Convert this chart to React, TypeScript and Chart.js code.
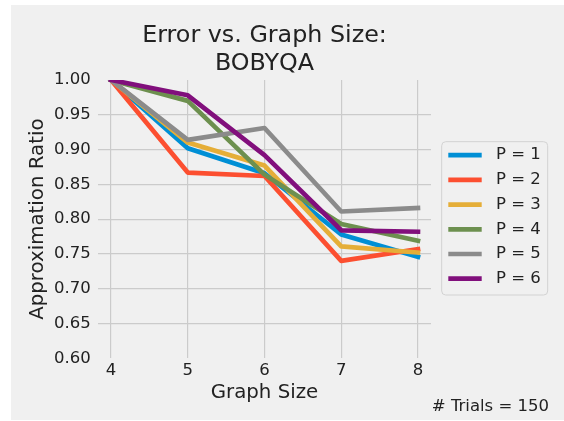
import React, { useEffect, useRef } from 'react';
import { Chart, registerables } from 'chart.js';

Chart.register(...registerables);

const graphSizes = [4, 5, 6, 7, 8];
const p1 = [1.0, 0.902, 0.866, 0.778, 0.746];
const p2 = [1.0, 0.867, 0.862, 0.740, 0.757];
const p3 = [1.0, 0.910, 0.877, 0.761, 0.752];
const p4 = [1.0, 0.970, 0.864, 0.793, 0.769];
const p5 = [1.0, 0.914, 0.931, 0.811, 0.816];
const p6 = [1.0, 0.978, 0.892, 0.784, 0.782];
const seriesValues = [p1, p2, p3, p4, p5, p6];
const seriesLabels = ['P = 1', 'P = 2', 'P = 3', 'P = 4', 'P = 5', 'P = 6'];
const seriesColors = ['#008fd5', '#fc4f30', '#e5ae38', '#6d904f', '#8b8b8b', '#810f7c'];
const xTicks = [4, 5, 6, 7, 8];
const yTicks = [0.6, 0.65, 0.7, 0.75, 0.8, 0.85, 0.9, 0.95, 1.0];
const titleLines = ['Error vs. Graph Size:', 'BOBYQA'];
const xTitle = 'Graph Size';
const yTitle = 'Approximation Ratio';
const noteText = '# Trials = 150';

const FONT = "'DejaVu Sans', sans-serif";
const TEXT = '#222222';
const GRID = '#cbcbcb';

const legendPlugin = {
  id: 'boxLegend',
  afterDraw(chart: any) {
    const ctx = chart.ctx;
    const x0 = 430.7, y0 = 136.7, w = 106, h = 153.3, r = 4;
    ctx.save();
    ctx.beginPath();
    ctx.moveTo(x0 + r, y0);
    ctx.lineTo(x0 + w - r, y0);
    ctx.arcTo(x0 + w, y0, x0 + w, y0 + r, r);
    ctx.lineTo(x0 + w, y0 + h - r);
    ctx.arcTo(x0 + w, y0 + h, x0 + w - r, y0 + h, r);
    ctx.lineTo(x0 + r, y0 + h);
    ctx.arcTo(x0, y0 + h, x0, y0 + h - r, r);
    ctx.lineTo(x0, y0 + r);
    ctx.arcTo(x0, y0, x0 + r, y0, r);
    ctx.closePath();
    ctx.fillStyle = '#f0f0f0';
    ctx.fill();
    ctx.strokeStyle = '#d2d2d2';
    ctx.lineWidth = 1;
    ctx.stroke();
    const ds = chart.data.datasets;
    ctx.font = `16.5px ${FONT}`;
    ctx.textBaseline = 'middle';
    ctx.textAlign = 'left';
    for (let i = 0; i < ds.length; i++) {
      const y = 150.2 + i * 24.7;
      ctx.beginPath();
      ctx.moveTo(437.3, y);
      ctx.lineTo(470.7, y);
      ctx.strokeStyle = ds[i].borderColor;
      ctx.lineWidth = 4.7;
      ctx.lineCap = 'butt';
      ctx.stroke();
      ctx.fillStyle = TEXT;
      ctx.fillText(ds[i].label, 485, y);
    }
    ctx.restore();
  },
};

export default function App() {
  const ref = useRef<HTMLCanvasElement | null>(null);
  useEffect(() => {
    if (!ref.current) return;
    const datasets = seriesValues.map((vals, i) => ({
      label: seriesLabels[i],
      data: graphSizes.map((g, j) => ({ x: g, y: vals[j] })),
      borderColor: seriesColors[i],
      backgroundColor: seriesColors[i],
      borderWidth: 4.7,
      pointRadius: 0,
      pointHoverRadius: 0,
      tension: 0,
      fill: false,
      borderCapStyle: 'square',
      borderJoinStyle: 'round',
      clip: 0,
      order: seriesValues.length - 1 - i,
    }));
    const chart = new Chart(ref.current, {
      type: 'line',
      data: { datasets } as any,
      options: {
        responsive: false,
        animation: false,
        events: [],
        layout: { padding: { left: 0, right: 15, top: 0, bottom: 3.5 } },
        scales: {
          x: {
            type: 'linear',
            min: 3.83,
            max: 8.17,
            afterBuildTicks: (s: any) => {
              s.ticks = xTicks.map((v) => ({ value: v }));
            },
            afterFit: (s: any) => {
              s.height = 46.7;
            },
            ticks: {
              autoSkip: false,
              maxRotation: 0,
              padding: 2.1,
              color: TEXT,
              font: { family: FONT, size: 16.5 },
              callback: (v: any) => String(v),
            },
            grid: { color: GRID, lineWidth: 1.2, drawTicks: false },
            border: { display: false },
            title: {
              display: true,
              text: xTitle,
              color: TEXT,
              font: { family: FONT, size: 19.8, lineHeight: 1.2 },
              padding: { top: 0, bottom: 0 },
            },
          },
          y: {
            type: 'linear',
            position: 'left',
            min: 0.6,
            max: 1.0,
            afterBuildTicks: (s: any) => {
              s.ticks = yTicks.map((v) => ({ value: v }));
            },
            afterFit: (s: any) => {
              s.width = 87;
            },
            ticks: {
              autoSkip: false,
              padding: 7.3,
              color: TEXT,
              font: { family: FONT, size: 16.5 },
              callback: (v: any) => Number(v).toFixed(2),
            },
            grid: {
              color: (c: any) =>
                c.tick && (Math.abs(c.tick.value - 0.6) < 1e-6 || Math.abs(c.tick.value - 1.0) < 1e-6)
                  ? 'rgba(0,0,0,0)'
                  : GRID,
              lineWidth: 1.2,
              drawTicks: false,
            },
            border: { display: false },
            title: {
              display: true,
              text: yTitle,
              color: TEXT,
              font: { family: FONT, size: 19.8, lineHeight: 1.2 },
              padding: { top: 15.3, bottom: 0 },
            },
          },
          y2: {
            type: 'linear',
            position: 'right',
            display: true,
            afterFit: (s: any) => {
              s.width = 118;
            },
            ticks: { display: false },
            grid: { display: false, drawTicks: false },
            border: { display: false },
          },
        },
        plugins: {
          legend: { display: false },
          tooltip: { enabled: false },
          title: {
            display: true,
            text: titleLines,
            fullSize: false,
            color: TEXT,
            font: { family: FONT, size: 23.8, weight: 'normal', lineHeight: 1.151 },
            padding: { top: 17.4, bottom: 2.8 },
          },
          subtitle: {
            display: true,
            text: noteText,
            position: 'bottom',
            align: 'end',
            color: TEXT,
            font: { family: FONT, size: 16.5, weight: 'normal', lineHeight: 1.2 },
            padding: { top: -8.33, bottom: 0 },
          },
        },
      } as any,
      plugins: [legendPlugin],
    });
    return () => chart.destroy();
  }, []);
  return (
    <div
      style={{
        position: 'absolute',
        left: 11,
        top: 5,
        width: 553,
        height: 415,
        background: '#f0f0f0',
      }}
    >
      <canvas ref={ref} width={553} height={415} style={{ display: 'block', width: 553, height: 415 }} />
    </div>
  );
}
